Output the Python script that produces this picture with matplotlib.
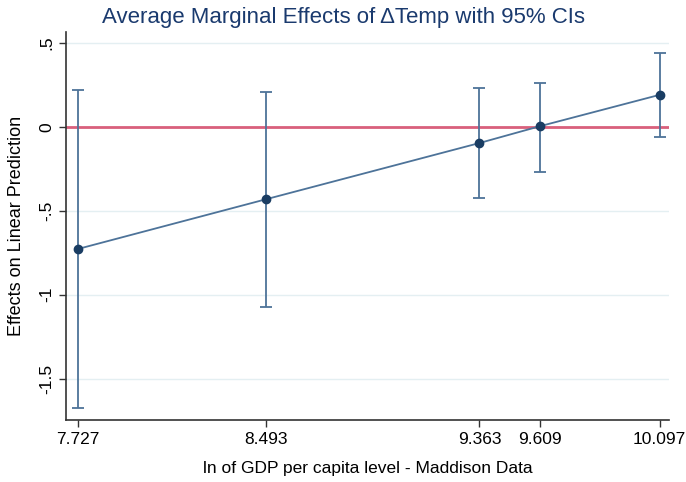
import numpy as np
import matplotlib
matplotlib.use("Agg")
import matplotlib.pyplot as plt

plt.rcParams['font.family'] = ['Liberation Sans', 'DejaVu Sans']

gdp_levels = [7.727, 8.493, 9.363, 9.609, 10.097]
tick_labels = ['7.727', '8.493', '9.363', '9.609', '10.097']
margins = [-0.728, -0.432, -0.097, 0.003, 0.190]
ci_upper = [0.217, 0.205, 0.230, 0.262, 0.440]
ci_lower = [-1.676, -1.073, -0.423, -0.268, -0.061]
y_ticks = [0.5, 0, -0.5, -1, -1.5]
y_tick_labels = ['.5', '0', '-.5', '-1', '-1.5']

line_col = '#4d7399'
dot_col = '#1a3d63'

fig = plt.figure(figsize=(6.86, 4.82), dpi=100)
ax = fig.add_axes([66 / 686, 1 - 420 / 482, (669 - 66) / 686, (420 - 32) / 482])

x = np.array(gdp_levels)
m = np.array(margins)
lo = np.array(ci_lower)
hi = np.array(ci_upper)

ax.axhline(0, color='#d9607c', lw=2, zorder=2)
ax.errorbar(x, m, yerr=[m - lo, hi - m], fmt='none', ecolor=line_col,
            elinewidth=1.3, capsize=4, capthick=1.3, zorder=3)
ax.plot(x, m, color=line_col, lw=1.3, zorder=4)
ax.plot(x, m, 'o', color=dot_col, ms=6, zorder=5)

ax.set_xlim(7.679, 10.135)
ax.set_ylim(-1.746, 0.564)
ax.set_xticks(gdp_levels)
ax.set_xticklabels(tick_labels, fontsize=12.5)
ax.set_yticks(y_ticks)
ax.set_yticklabels(y_tick_labels, fontsize=12.5, rotation=90, va='center')
ax.yaxis.grid(True, color='#e4eff2', lw=1)
ax.set_axisbelow(True)

for s in ['top', 'right']:
    ax.spines[s].set_visible(False)
for s in ['left', 'bottom']:
    ax.spines[s].set_color('#333333')
    ax.spines[s].set_linewidth(1.2)
ax.tick_params(direction='out', length=5, color='#333333', width=1)

ax.set_xlabel('ln of GDP per capita level - Maddison Data', fontsize=12.5, labelpad=10)
ax.set_ylabel('Effects on Linear Prediction', fontsize=13, labelpad=10)
fig.suptitle('Average Marginal Effects of \u0394Temp with 95% CIs', fontsize=16,
             color='#1a3a6e', x=0.5, y=0.985, va='top')

fig.savefig('out.png', dpi=100)
